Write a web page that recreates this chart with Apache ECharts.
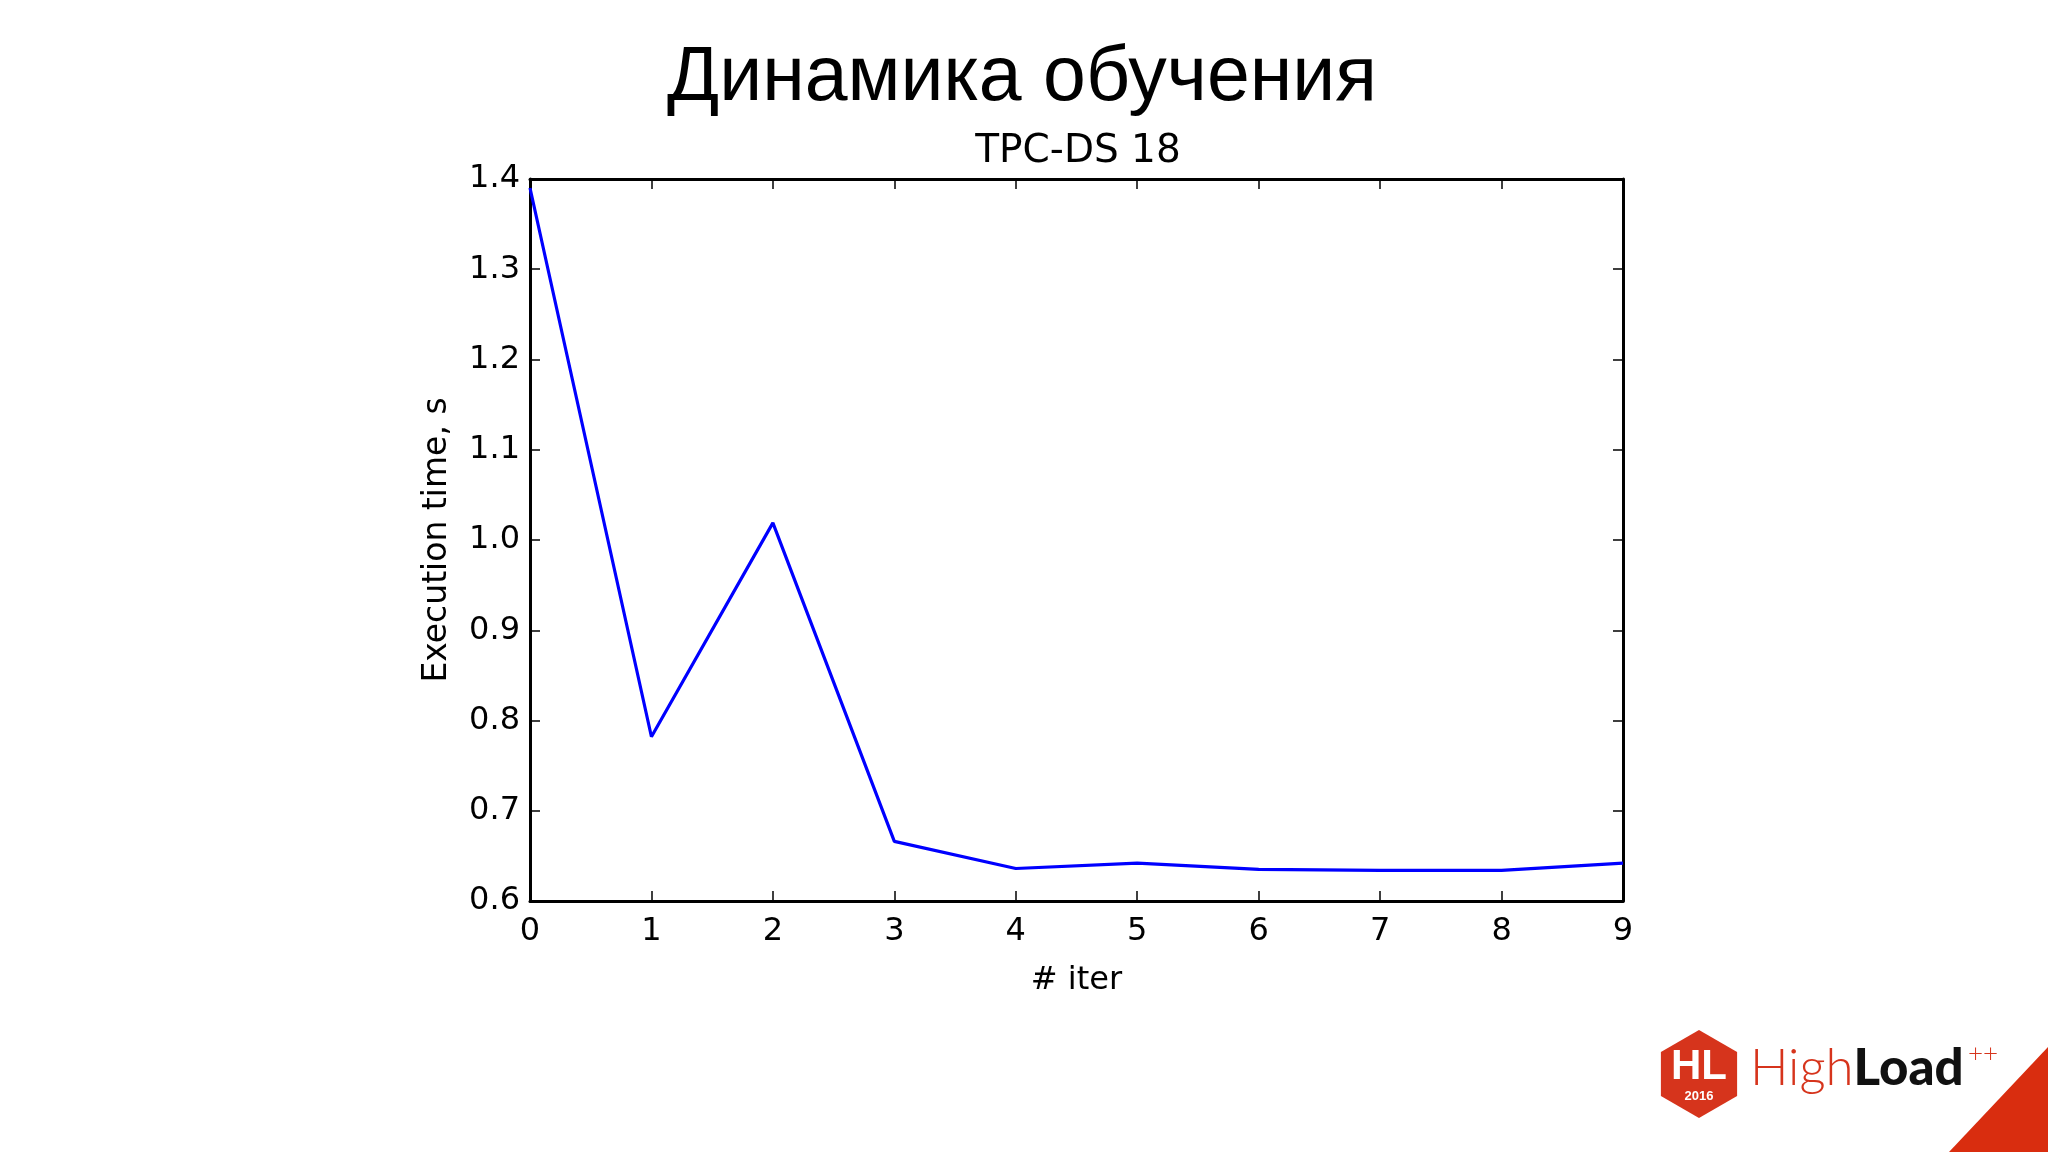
<!DOCTYPE html>
<html>
<head>
<meta charset="utf-8">
<script src="https://cdn.jsdelivr.net/npm/echarts@6/dist/echarts.min.js"></script>
<style>
html,body{margin:0;padding:0;background:#fff;}
#chart{width:2048px;height:1152px;}
</style>
</head>
<body>
<div id="chart"></div>
<script>
// ---- data ----
const slideTitle = "Динамика обучения";
const chartTitle = "TPC-DS 18";
const xAxisName = "# iter";
const yAxisName = "Execution time, s";
const iterations = [0, 1, 2, 3, 4, 5, 6, 7, 8, 9];
const execTime = [1.390, 0.782, 1.019, 0.666, 0.636, 0.642, 0.635, 0.634, 0.634, 0.642];
const yTicks = [0.6, 0.7, 0.8, 0.9, 1.0, 1.1, 1.2, 1.3, 1.4];

const chart = echarts.init(document.getElementById('chart'), null, {renderer: 'canvas'});
const dv = "DejaVu Sans";
const grid = {left: 530, top: 179, width: 1093, height: 722};

// hexagon points for logo
const hx = 1699, hy = 1074, hr = 44;
const hexPts = [];
for (let i = 0; i < 6; i++) {
  const a = Math.PI / 180 * (60 * i - 90);
  hexPts.push([hx + hr * Math.cos(a), hy + hr * Math.sin(a)]);
}

const axisLineStyle = {color: '#000', width: 3};
const tickStyle = {show: true, inside: true, length: 10, lineStyle: {color: '#000', width: 1.5}};

const option = {
  backgroundColor: '#ffffff',
  animation: false,
  title: [
    {text: slideTitle, left: 1017, top: 35, textAlign: 'center',
     textStyle: {fontFamily: 'Liberation Sans', fontWeight: 'normal', fontSize: 77, color: '#000'}},
    {text: chartTitle, left: 1073, top: 127, textAlign: 'center',
     textStyle: {fontFamily: dv, fontWeight: 'normal', fontSize: 39, color: '#000'}}
  ],
  grid: grid,
  xAxis: [
    {type: 'value', min: 0, max: 9, interval: 1, position: 'bottom',
     name: xAxisName, nameLocation: 'middle', nameGap: 64,
     nameTextStyle: {fontFamily: dv, fontSize: 32, color: '#000'},
     axisLine: {show: true, onZero: false, lineStyle: axisLineStyle},
     axisTick: tickStyle,
     axisLabel: {fontFamily: dv, fontSize: 32, color: '#000', margin: 15},
     splitLine: {show: false}},
    {type: 'value', min: 0, max: 9, interval: 1, position: 'top',
     axisLine: {show: true, onZero: false, lineStyle: axisLineStyle},
     axisTick: tickStyle,
     axisLabel: {show: false}, splitLine: {show: false}}
  ],
  yAxis: [
    {type: 'value', min: 0.6, max: 1.4, interval: 0.1, position: 'left',
     name: yAxisName, nameLocation: 'middle', nameGap: 76, nameRotate: 90,
     nameTextStyle: {fontFamily: dv, fontSize: 33, color: '#000'},
     axisLine: {show: true, onZero: false, lineStyle: axisLineStyle},
     axisTick: tickStyle,
     axisLabel: {fontFamily: dv, fontSize: 32, color: '#000', margin: 10,
                 formatter: v => v.toFixed(1)},
     splitLine: {show: false}},
    {type: 'value', min: 0.6, max: 1.4, interval: 0.1, position: 'right',
     axisLine: {show: true, onZero: false, lineStyle: axisLineStyle},
     axisTick: tickStyle,
     axisLabel: {show: false}, splitLine: {show: false}}
  ],
  series: [{
    type: 'line',
    data: iterations.map((x, i) => [x, execTime[i]]),
    showSymbol: false,
    symbol: 'none',
    lineStyle: {color: '#0000ff', width: 3.2},
    clip: true
  }],
  graphic: [
    {type: 'polygon', shape: {points: [[1949, 1152], [2048, 1152], [2048, 1047]]},
     style: {fill: '#d92d0f'}},
    {type: 'polygon', shape: {points: hexPts}, style: {fill: '#d6341c'}},
    {type: 'text', x: hx, y: hy - 7, style: {text: 'HL', fill: '#fff', font: 'bold 42px "Liberation Sans"',
      align: 'center', verticalAlign: 'middle'}},
    {type: 'text', x: hx, y: hy + 22, style: {text: '2016', fill: '#fff', font: 'bold 13px "Liberation Sans"',
      align: 'center', verticalAlign: 'middle'}},
    {type: 'text', x: 1750, y: 1094, style: {
      rich: {
        a: {fontFamily: 'Lato', fontWeight: 300, fontSize: 51, fill: '#d6341c', color: '#d6341c'},
        b: {fontFamily: 'Lato', fontWeight: 900, fontSize: 51, fill: '#111', color: '#111'}
      },
      text: '{a|High}{b|Load}', verticalAlign: 'bottom'}},
    {type: 'text', x: 1968, y: 1054, style: {text: '++', fill: '#d6341c',
      font: '300 26px Lato', align: 'left', verticalAlign: 'middle'}}
  ]
};
chart.setOption(option);
</script>
</body>
</html>
